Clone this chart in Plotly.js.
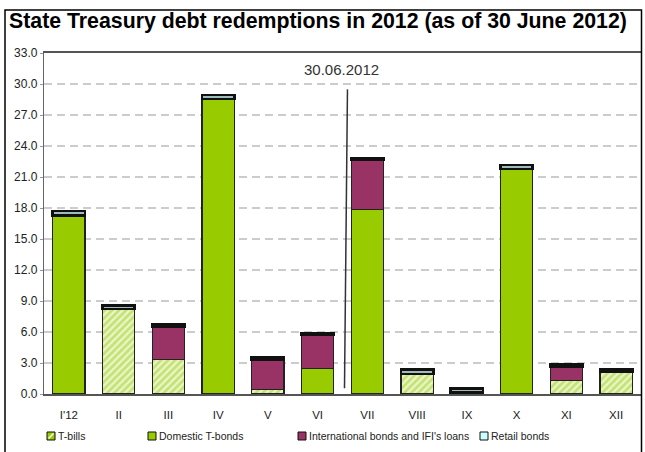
<!DOCTYPE html>
<html>
<head>
<meta charset="utf-8">
<script src="https://cdn.plot.ly/plotly-3.0.1.min.js"></script>
<style>
  html, body { margin: 0; padding: 0; background: #fff; }
  #chart { width: 645px; height: 452px; }
</style>
</head>
<body>
<div id="chart"></div>
<script>
// ---- data (bn PLN) ----
var months = ["I'12", "II", "III", "IV", "V", "VI", "VII", "VIII", "IX", "X", "XI", "XII"];
var tBills      = [null, 8.23, 3.35, null, 0.45, null, null, 1.95, null, null, 1.30, 2.20];
var domBonds    = [17.28, null, null, 28.54, null, 2.43, 17.84, null, null, 21.78, null, null];
var intlBonds   = [null, null, 3.21, null, 2.89, 3.32, 4.84, null, 0.17, null, 1.36, null];
var retailBonds = [0.42, 0.33, 0.16, 0.39, 0.26, 0.17, 0.15, 0.45, 0.36, 0.38, 0.22, 0.20];
var seriesNames = ["T-bills", "Domestic T-bonds", "International bonds and IFI's loans", "Retail bonds"];
var yTicks = [0, 3, 6, 9, 12, 15, 18, 21, 24, 27, 30, 33];
var markerLabel = "30.06.2012";
var chartTitle = "State Treasury debt redemptions in 2012 (as of 30 June 2012)";

var sans = "Liberation Sans, Arial, sans-serif";
var outline = {color: '#222', width: 1.2};

var traces = [
  {type: 'bar', name: seriesNames[0], x: months, y: tBills,
   marker: {color: '#eaf6c8', line: outline,
            pattern: {shape: '/', fgcolor: '#9fce22', size: 5, solidity: 0.55, fillmode: 'overlay'}}},
  {type: 'bar', name: seriesNames[1], x: months, y: domBonds,
   marker: {color: '#99cc00', line: outline}},
  {type: 'bar', name: seriesNames[2], x: months, y: intlBonds,
   marker: {color: '#993366', line: outline}},
  {type: 'bar', name: seriesNames[3], x: months, y: retailBonds,
   marker: {color: '#9fbcbc', line: {color: '#111', width: 2.6}}}
];

// pixel helpers for paper coordinates
var L = 44, R = 641, T = 53, B = 394;
function px(x) { return (x - L) / (R - L); }
function py(y) { return (B - y) / (B - T); }

var legendColors = ['#99cc00', '#99cc00', '#993366', '#ccffff'];
var legendX = [47, 148, 298, 480];
var shapes = [
  // outer frame
  {type: 'rect', xref: 'paper', yref: 'paper', x0: px(5), x1: px(641.5), y0: py(475), y1: py(10),
   line: {color: '#000', width: 1.5}, fillcolor: 'rgba(0,0,0,0)', layer: 'above'},
  // 30.06.2012 divider
  {type: 'line', xref: 'x', yref: 'y', x0: 5.6, x1: 5.54, y0: 29.48, y1: 0.55,
   line: {color: '#333', width: 1.5}}
];
var annotations = [
  {xref: 'x', yref: 'y', x: 5.48, y: 31.45, text: markerLabel, showarrow: false,
   font: {family: sans, size: 15, color: '#333'}}
];
for (var i = 0; i < 4; i++) {
  shapes.push({type: 'rect', xref: 'paper', yref: 'paper',
    x0: px(legendX[i]), x1: px(legendX[i] + 8), y0: py(440), y1: py(432),
    fillcolor: legendColors[i], line: {color: '#111', width: 1}});
  annotations.push({xref: 'paper', yref: 'paper', x: px(legendX[i] + 9), y: py(436),
    xanchor: 'left', yanchor: 'middle', text: seriesNames[i], showarrow: false,
    font: {family: sans, size: 10.5, color: '#222'}});
}
// hatch stroke in the T-bills legend icon
shapes.push({type: 'line', xref: 'paper', yref: 'paper',
  x0: px(48.5), x1: px(53.5), y0: py(438.5), y1: py(433.5), line: {color: '#fff', width: 1.5}});

var layout = {
  width: 645, height: 452,
  margin: {l: L, r: 645 - R, t: T, b: 452 - B},
  paper_bgcolor: '#fff', plot_bgcolor: '#fff',
  barmode: 'stack', bargap: 0.35,
  showlegend: false,
  title: {text: chartTitle, xref: 'container', yref: 'container', x: 9 / 645, xanchor: 'left',
          y: 1 - 21 / 452, yanchor: 'middle',
          font: {family: sans, size: 21.3, weight: 'bold', color: '#000'}},
  xaxis: {type: 'category', showline: true, linecolor: '#555', linewidth: 2, mirror: true,
          ticks: '', showgrid: false, ticklabelstandoff: 9,
          tickfont: {family: sans, size: 11.5, color: '#222'}},
  yaxis: {range: [0, 33], tickvals: yTicks, tickformat: '.1f', showline: true, linecolor: '#666',
          linewidth: 1.2, mirror: true, ticks: 'outside', ticklen: 3, tickcolor: '#999',
          showgrid: true, gridcolor: '#cccccc', gridwidth: 1.5, griddash: '8px,5px',
          zeroline: false, tickfont: {family: sans, size: 12, color: '#222'}},
  shapes: shapes,
  annotations: annotations
};

Plotly.newPlot('chart', traces, layout, {staticPlot: true, displayModeBar: false});
</script>
</body>
</html>
